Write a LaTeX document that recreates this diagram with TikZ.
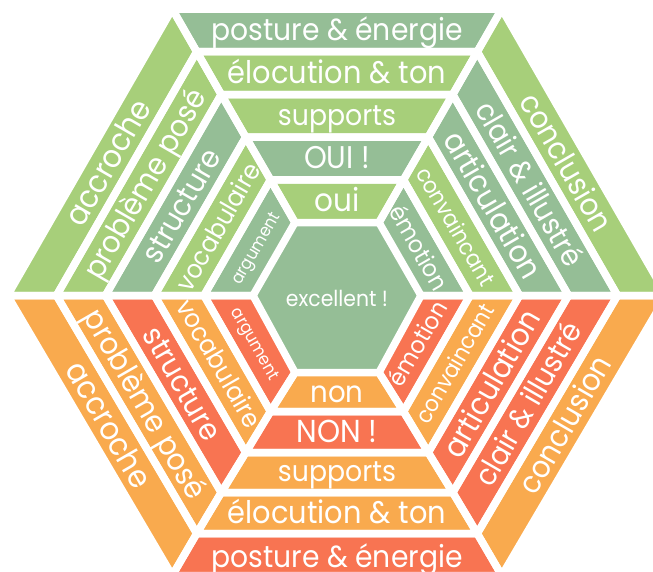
\documentclass[tikz,border=0pt]{standalone}
\usepackage{fontspec}
\setmainfont{Poppins}
\usepackage{graphicx}
\definecolor{lg}{HTML}{A7CF7A}
\definecolor{gg}{HTML}{95BE96}
\definecolor{og}{HTML}{F9AA4E}
\definecolor{rd}{HTML}{F87452}
\tikzset{
  gapline/.style={draw=white, line width=7.5pt, line join=round, line cap=round},
  lbl/.style={text=white, inner sep=0pt, outer sep=0pt},
}
\newcommand{\fitw}[2]{\scalebox{1}[1.08]{\resizebox{#1pt}{!}{\vphantom{Ég}#2}}}
\begin{document}
\begin{tikzpicture}[x=1pt,y=-1pt]
\useasboundingbox (0,0) rectangle (653,571);
\clip (0,0) rectangle (653,571);
\def\cx{337}
\def\yo{295.5}
% ring boundaries: index / half-width at midline / top apothem / bottom apothem
\foreach \k/\R/\a/\b in {0/84/73/77, 1/133/115.7/116, 2/182.5/158.4/157, 3/231.5/201/197, 4/280.5/243.8/238, 5/329.5/286.5/280}{
  \coordinate (L\k) at (\cx-\R,\yo);
  \coordinate (R\k) at (\cx+\R,\yo);
  \coordinate (TL\k) at (\cx-\R/2,\yo-\a);
  \coordinate (TR\k) at (\cx+\R/2,\yo-\a);
  \coordinate (BL\k) at (\cx-\R/2,\yo+\b);
  \coordinate (BR\k) at (\cx+\R/2,\yo+\b);
}
% fills
\foreach \k/\j/\cul/\ctop/\cur/\cll/\cbot/\clr in {5/4/lg/gg/lg/og/rd/og, 4/3/lg/lg/gg/og/og/rd, 3/2/gg/lg/gg/rd/og/rd, 2/1/lg/gg/lg/og/rd/og, 1/0/gg/lg/gg/rd/og/rd}{
  \fill[\ctop] (TL\k) -- (TR\k) -- (TR\j) -- (TL\j) -- cycle;
  \fill[\cul] (L\k) -- (TL\k) -- (TL\j) -- (L\j) -- cycle;
  \fill[\cur] (TR\k) -- (R\k) -- (R\j) -- (TR\j) -- cycle;
  \fill[\cll] (L\k) -- (BL\k) -- (BL\j) -- (L\j) -- cycle;
  \fill[\cbot] (BL\k) -- (BR\k) -- (BR\j) -- (BL\j) -- cycle;
  \fill[\clr] (BR\k) -- (R\k) -- (R\j) -- (BR\j) -- cycle;
}
\fill[gg] (L0) -- (TL0) -- (TR0) -- (R0) -- (BR0) -- (BL0) -- cycle;
% white gaps
\foreach \k/\j in {5/4, 4/3, 3/2, 2/1, 1/0}{
  \draw[gapline] (TL\k) -- (TR\k) -- (TR\j) -- (TL\j) -- cycle;
  \draw[gapline] (L\k) -- (TL\k) -- (TL\j) -- (L\j) -- cycle;
  \draw[gapline] (TR\k) -- (R\k) -- (R\j) -- (TR\j) -- cycle;
  \draw[gapline] (L\k) -- (BL\k) -- (BL\j) -- (L\j) -- cycle;
  \draw[gapline] (BL\k) -- (BR\k) -- (BR\j) -- (BL\j) -- cycle;
  \draw[gapline] (BR\k) -- (R\k) -- (R\j) -- (BR\j) -- cycle;
}
% centre
\node[lbl] (exc) at (337,299) {\fitw{102}{excellent !}};
% top labels
\node[lbl] (t5) at (337,30.4) {\fitw{251}{posture \& énergie}};
\node[lbl] (t4) at (337,73.1) {\fitw{218}{élocution \& ton}};
\node[lbl] (t3) at (337,115.8) {\fitw{118}{supports}};
\node[lbl] (t2) at (337,158.5) {\fitw{66}{OUI !}};
\node[lbl] (t1) at (337,201.2) {\fitw{45}{oui}};
% bottom labels
\node[lbl] (b5) at (337,557) {\fitw{251}{posture \& énergie}};
\node[lbl] (b4) at (337,513) {\fitw{218}{élocution \& ton}};
\node[lbl] (b3) at (337,472.5) {\fitw{118}{supports}};
\node[lbl] (b2) at (337,432) {\fitw{81}{NON !}};
\node[lbl] (b1) at (337,392.5) {\fitw{53}{non}};
% upper left
\node[lbl,rotate=60] (ul5) at (108.3,162.9) {\fitw{140}{accroche}};
\node[lbl,rotate=60] (ul4) at (145,184.3) {\fitw{214}{problème posé}};
\node[lbl,rotate=60] (ul3) at (181.8,205.7) {\fitw{126}{structure}};
\node[lbl,rotate=60] (ul2) at (218.7,227) {\fitw{143}{vocabulaire}};
\node[lbl,rotate=60] (ul1) at (255.6,248.3) {\fitw{80}{argument}};
% upper right
\node[lbl,rotate=-60] (ur5) at (565.7,162.9) {\fitw{154}{conclusion}};
\node[lbl,rotate=-60] (ur4) at (529,184.3) {\fitw{184}{clair \& illustré}};
\node[lbl,rotate=-60] (ur3) at (492.2,205.7) {\fitw{164}{articulation}};
\node[lbl,rotate=-60] (ur2) at (455.3,227) {\fitw{133}{convaincant}};
\node[lbl,rotate=-60] (ur1) at (418.4,248.3) {\fitw{93}{émotion}};
% lower left
\node[lbl,rotate=-60] (ll5) at (108.3,425) {\fitw{140}{accroche}};
\node[lbl,rotate=-60] (ll4) at (145,404.3) {\fitw{214}{problème posé}};
\node[lbl,rotate=-60] (ll3) at (181.8,384) {\fitw{126}{structure}};
\node[lbl,rotate=-60] (ll2) at (218.7,363.8) {\fitw{143}{vocabulaire}};
\node[lbl,rotate=-60] (ll1) at (255.6,343.8) {\fitw{80}{argument}};
% lower right
\node[lbl,rotate=60] (lr5) at (565.7,425) {\fitw{154}{conclusion}};
\node[lbl,rotate=60] (lr4) at (529,404.3) {\fitw{184}{clair \& illustré}};
\node[lbl,rotate=60] (lr3) at (492.2,384) {\fitw{164}{articulation}};
\node[lbl,rotate=60] (lr2) at (455.3,363.8) {\fitw{133}{convaincant}};
\node[lbl,rotate=60] (lr1) at (418.4,343.8) {\fitw{93}{émotion}};
\end{tikzpicture}
\end{document}
